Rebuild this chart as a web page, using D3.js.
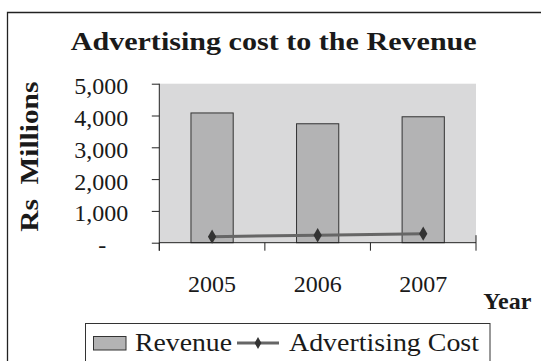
<!DOCTYPE html>
<html>
<head>
<meta charset="utf-8">
<script src="https://cdn.jsdelivr.net/npm/d3@7"></script>
<style>
  html, body { margin: 0; padding: 0; background: #fff; }
  svg { display: block; }
  svg text { font-family: 'Liberation Serif', 'DejaVu Serif', 'Times New Roman', serif !important; fill: #1a1a1a; }
</style>
</head>
<body>
<svg id="chart" width="541" height="361"></svg>
<script>
// Revenue vs advertising cost, Rs millions
const years = ["2005", "2006", "2007"];
const revenue = [4080, 3740, 3960];
const advertisingCost = [190, 235, 285];
const yTicks = [0, 1000, 2000, 3000, 4000, 5000];

const FONT = "'Liberation Serif', 'DejaVu Serif', serif";
const svg = d3.select("#chart");
const plot = { left: 159.3, right: 476, top: 83.7, bottom: 242.7 };

const x = d3.scaleBand().domain(years).range([plot.left, plot.right]).paddingInner(0).paddingOuter(0);
const y = d3.scaleLinear().domain([0, 5000]).range([plot.bottom, plot.top]);
const barW = x.bandwidth() * 0.4;

// outer chart frame (continues past the right and bottom edges)
svg.append("path")
  .attr("d", "M7.5,361 V12.5 H541")
  .attr("fill", "none").attr("stroke", "#222").attr("stroke-width", 1.3);

// title
svg.append("text")
  .attr("x", 70.7).attr("y", 50)
  .attr("textLength", 406).attr("lengthAdjust", "spacingAndGlyphs")
  .attr("font-family", FONT)
  .style("font-size", "25px").style("font-weight", "bold")
  .text("Advertising cost to the Revenue");

// plot area
svg.append("rect")
  .attr("x", plot.left).attr("y", plot.top)
  .attr("width", plot.right - plot.left).attr("height", plot.bottom - plot.top)
  .attr("fill", "#d9d9da");

// bars
svg.append("g").selectAll("rect").data(years).join("rect")
  .attr("x", d => x(d) + (x.bandwidth() - barW) / 2)
  .attr("y", (d, i) => y(revenue[i]))
  .attr("width", barW)
  .attr("height", (d, i) => y(0) - y(revenue[i]))
  .attr("fill", "#b3b3b4").attr("stroke", "#333").attr("stroke-width", 1);

// y axis
const fmt = d => d === 0 ? "-" : d3.format(",")(d);
const yAxis = svg.append("g").attr("transform", `translate(${plot.left},0)`)
  .call(d3.axisLeft(y).tickValues(yTicks).tickSize(7.5).tickSizeOuter(0).tickFormat(fmt));
yAxis.attr("font-family", FONT);
yAxis.select(".domain").attr("stroke", "#222").attr("d", `M0,${plot.top}V${plot.bottom + 8}`);
yAxis.selectAll(".tick line").attr("stroke", "#222");
yAxis.selectAll(".tick text")
  .attr("x", d => d === 0 ? -57 : -31)
  .attr("dy", null).attr("y", 10)
  .attr("text-anchor", d => d === 0 ? "middle" : "end")
  .style("font-size", "24px")
  .attr("fill", "#1a1a1a");

// x axis: ticks between categories
const bounds = [plot.left, ...years.slice(1).map(d => x(d)), plot.right];
svg.append("line")
  .attr("x1", plot.left).attr("x2", plot.right)
  .attr("y1", plot.bottom).attr("y2", plot.bottom)
  .attr("stroke", "#222");
svg.append("g").selectAll("line").data(bounds).join("line")
  .attr("x1", d => d).attr("x2", d => d)
  .attr("y1", (d, i) => i === bounds.length - 1 ? plot.bottom - 7.5 : plot.bottom)
  .attr("y2", plot.bottom + 8)
  .attr("stroke", "#222");

svg.append("g").attr("font-family", FONT).selectAll("text").data(years).join("text")
  .attr("x", d => x(d) + x.bandwidth() / 2)
  .attr("y", 291.7)
  .attr("text-anchor", "middle")
  .style("font-size", "24px")
  .text(d => d);

// advertising cost line
const line = d3.line()
  .x((d, i) => x(years[i]) + x.bandwidth() / 2)
  .y(d => y(d));
svg.append("path").datum(advertisingCost)
  .attr("d", line)
  .attr("fill", "none").attr("stroke", "#666").attr("stroke-width", 3);
const diamond = d3.symbol().type(d3.symbolDiamond).size(60);
svg.append("g").selectAll("path").data(advertisingCost).join("path")
  .attr("transform", (d, i) => `translate(${x(years[i]) + x.bandwidth() / 2},${y(d)})`)
  .attr("d", diamond)
  .attr("fill", "#333");

// axis titles
svg.append("text")
  .attr("transform", "translate(38,156.7) rotate(-90)")
  .attr("text-anchor", "middle")
  .attr("textLength", 150).attr("lengthAdjust", "spacingAndGlyphs")
  .attr("font-family", FONT)
  .style("font-size", "25px").style("font-weight", "bold")
  .style("white-space", "pre")
  .text("Rs  Millions");
svg.append("text")
  .attr("x", 483.3).attr("y", 309.3)
  .attr("textLength", 48).attr("lengthAdjust", "spacingAndGlyphs")
  .attr("font-family", FONT)
  .style("font-size", "24px").style("font-weight", "bold")
  .text("Year");

// legend
const lg = svg.append("g").attr("font-family", FONT);
lg.append("rect")
  .attr("x", 85.5).attr("y", 323.5).attr("width", 404.5).attr("height", 60)
  .attr("fill", "#fff").attr("stroke", "#333").attr("stroke-width", 1);
lg.append("rect")
  .attr("x", 93.5).attr("y", 336.5).attr("width", 32.5).attr("height", 13.5)
  .attr("fill", "#b3b3b4").attr("stroke", "#333").attr("stroke-width", 1);
lg.append("text")
  .attr("x", 135).attr("y", 351)
  .attr("textLength", 97).attr("lengthAdjust", "spacingAndGlyphs")
  .style("font-size", "25px").text("Revenue");
lg.append("line")
  .attr("x1", 237).attr("x2", 279).attr("y1", 343).attr("y2", 343)
  .attr("stroke", "#666").attr("stroke-width", 3);
lg.append("path")
  .attr("transform", "translate(258,343)")
  .attr("d", d3.symbol().type(d3.symbolDiamond).size(40))
  .attr("fill", "#333");
lg.append("text")
  .attr("x", 289).attr("y", 351)
  .attr("textLength", 190).attr("lengthAdjust", "spacingAndGlyphs")
  .style("font-size", "25px").text("Advertising Cost");
</script>
</body>
</html>
